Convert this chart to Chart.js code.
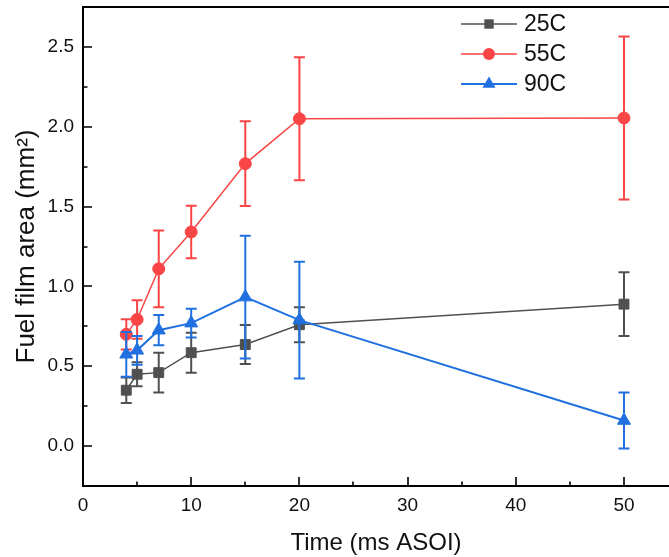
<!DOCTYPE html>
<html><head><meta charset="utf-8">
<script src="https://cdn.jsdelivr.net/npm/chart.js@4"></script>
<style>html,body{margin:0;padding:0;background:#fff;overflow:hidden}</style>
</head><body>
<canvas id="c" width="669" height="557"></canvas>
<script>
// ---- data ----
const times = [4, 5, 7, 10, 15, 20, 50];
const seriesLabels = ['25C', '55C', '90C'];
const area25 = [0.35, 0.45, 0.46, 0.585, 0.636, 0.76, 0.889];
const err25  = [0.08, 0.075, 0.125, 0.125, 0.122, 0.11, 0.2];
const area55 = [0.70, 0.793, 1.11, 1.341, 1.769, 2.05, 2.055];
const err55  = [0.095, 0.12, 0.24, 0.165, 0.266, 0.385, 0.51];
const area90 = [0.575, 0.60, 0.726, 0.77, 0.933, 0.789, 0.16];
const err90  = [0.14, 0.09, 0.095, 0.09, 0.384, 0.365, 0.175];
const xTicks = [0, 10, 20, 30, 40, 50];
const xTickLabels = ['0', '10', '20', '30', '40', '50'];
const xMinor = [5, 15, 25, 35, 45];
const yTicks = [0, 0.5, 1.0, 1.5, 2.0, 2.5];
const yTickLabels = ['0.0', '0.5', '1.0', '1.5', '2.0', '2.5'];
const yMinor = [0.25, 0.75, 1.25, 1.75, 2.25];

const FONT = "'Liberation Sans', Arial, Helvetica, sans-serif";
const colors = ['#505050', '#F94545', '#2070E0'];
const styles = ['rect', 'circle', 'triangle'];
const radii = [7, 6, 7.5];

function pts(vals) { return times.map((t, i) => ({x: t, y: vals[i]})); }
const allVals = [area25, area55, area90];
const allErr = [err25, err55, err90];

const datasets = seriesLabels.map((lab, k) => ({
  label: lab,
  data: pts(allVals[k]),
  errors: allErr[k],
  borderColor: colors[k],
  backgroundColor: colors[k],
  borderWidth: k === 2 ? 2 : 1.5,
  pointStyle: styles[k],
  pointRadius: radii[k],
  pointHoverRadius: radii[k],
  pointBorderWidth: 1,
  pointBorderColor: colors[k],
  pointBackgroundColor: colors[k],
  order: 3 - k,
  tension: 0
}));

function drawMarker(ctx, style, x, y, r, color) {
  ctx.save();
  ctx.fillStyle = color;
  ctx.beginPath();
  if (style === 'rect') {
    const s = Math.SQRT1_2 * r;
    ctx.rect(x - s, y - s, 2 * s, 2 * s);
  } else if (style === 'circle') {
    ctx.arc(x, y, r, 0, Math.PI * 2);
  } else {
    for (let j = 0; j < 3; j++) {
      const a = j * 2 * Math.PI / 3;
      const px = x + Math.sin(a) * r, py = y - Math.cos(a) * r;
      if (j === 0) ctx.moveTo(px, py); else ctx.lineTo(px, py);
    }
    ctx.closePath();
  }
  ctx.fill();
  ctx.restore();
}

const plugin = {
  id: 'extras',
  beforeDatasetDraw(chart, args) {
    const ds = chart.data.datasets[args.index];
    const ys = chart.scales.y;
    const ctx = chart.ctx;
    ctx.save();
    ctx.strokeStyle = ds.borderColor;
    ctx.lineWidth = 2;
    args.meta.data.forEach((el, i) => {
      const v = ds.data[i].y, e = ds.errors[i];
      const x = el.x;
      const yt = ys.getPixelForValue(v + e), yb = ys.getPixelForValue(v - e);
      ctx.beginPath();
      ctx.moveTo(x, yt); ctx.lineTo(x, yb);
      ctx.moveTo(x - 5.5, yt); ctx.lineTo(x + 5.5, yt);
      ctx.moveTo(x - 5.5, yb); ctx.lineTo(x + 5.5, yb);
      ctx.stroke();
    });
    ctx.restore();
  },
  afterDraw(chart) {
    const ctx = chart.ctx, a = chart.chartArea;
    const xs = chart.scales.x, ys = chart.scales.y;
    ctx.save();
    ctx.strokeStyle = '#000';
    ctx.lineWidth = 1.8;
    // top frame
    ctx.beginPath(); ctx.moveTo(a.left - 1, a.top); ctx.lineTo(a.right, a.top); ctx.stroke();
    // inward ticks
    ctx.lineWidth = 1.6;
    ctx.beginPath();
    xTicks.forEach(v => { const p = Math.round(xs.getPixelForValue(v)); ctx.moveTo(p, a.bottom); ctx.lineTo(p, a.bottom - 9); });
    xMinor.forEach(v => { const p = Math.round(xs.getPixelForValue(v)); ctx.moveTo(p, a.bottom); ctx.lineTo(p, a.bottom - 4.5); });
    yTicks.forEach(v => { const p = Math.round(ys.getPixelForValue(v)); ctx.moveTo(a.left, p); ctx.lineTo(a.left + 9, p); });
    yMinor.forEach(v => { const p = Math.round(ys.getPixelForValue(v)); ctx.moveTo(a.left, p); ctx.lineTo(a.left + 4.5, p); });
    ctx.stroke();
    // legend
    chart.data.datasets.forEach((ds, k) => {
      const yy = 24 + 30 * k;
      ctx.strokeStyle = ds.borderColor;
      ctx.lineWidth = ds.borderWidth;
      ctx.beginPath(); ctx.moveTo(461, yy); ctx.lineTo(517, yy); ctx.stroke();
      drawMarker(ctx, ds.pointStyle, 489, yy, ds.pointRadius * (k === 0 ? 0.95 : 1), ds.borderColor);
      ctx.fillStyle = '#111';
      ctx.font = '23px ' + FONT;
      ctx.textBaseline = 'middle';
      ctx.textAlign = 'left';
      ctx.fillText(ds.label, 524, yy + 1);
    });
    ctx.restore();
  }
};

new Chart(document.getElementById('c'), {
  type: 'line',
  data: { datasets },
  options: {
    responsive: false,
    animation: false,
    events: [],
    layout: { autoPadding: false, padding: { top: 7, right: 0, left: 0, bottom: 0 } },
    plugins: { legend: { display: false }, tooltip: { enabled: false } },
    scales: {
      x: {
        type: 'linear',
        min: 0, max: 54.16,
        grid: { display: true, drawOnChartArea: false, drawTicks: false },
        border: { display: true, color: '#000', width: 2 },
        afterBuildTicks: s => { s.ticks = xTicks.map(v => ({ value: v })); },
        afterFit: s => { s.height = 71; s.paddingLeft = 0; s.paddingRight = 0; },
        ticks: {
          color: '#111', padding: 8,
          font: { family: FONT, size: 19 },
          maxRotation: 0, autoSkip: false,
          callback: (v, i) => xTickLabels[i]
        },
        title: {
          display: true, text: 'Time (ms ASOI)', color: '#111',
          font: { family: FONT, size: 24, lineHeight: 1.15 },
          padding: { top: 0, bottom: 0 }
        }
      },
      y: {
        type: 'linear',
        min: -0.25, max: 2.75,
        grid: { display: true, drawOnChartArea: false, drawTicks: false },
        border: { display: true, color: '#000', width: 2 },
        afterBuildTicks: s => { s.ticks = yTicks.map(v => ({ value: v })); },
        afterFit: s => { s.width = 83; s.paddingTop = 0; s.paddingBottom = 0; },
        ticks: {
          color: '#111', padding: 9,
          font: { family: FONT, size: 19 },
          autoSkip: false,
          callback: (v, i) => yTickLabels[i]
        },
        title: {
          display: true, text: 'Fuel film area (mm²)', color: '#111',
          font: { family: FONT, size: 26, lineHeight: 1.2 },
          padding: { top: 11, bottom: 0 }
        }
      }
    }
  },
  plugins: [plugin]
});
</script>
</body></html>
